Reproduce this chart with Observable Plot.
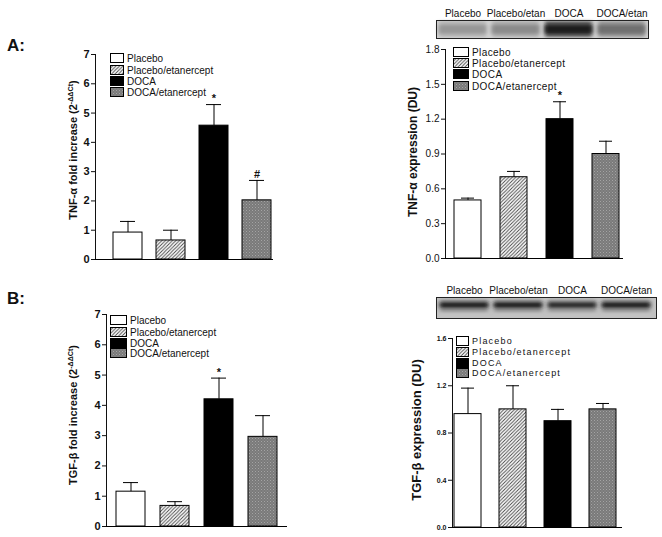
<!DOCTYPE html>
<html>
<head>
<meta charset="utf-8">
<script src="https://cdn.jsdelivr.net/npm/d3@7"></script>
<script src="https://cdn.jsdelivr.net/npm/@observablehq/plot@0.6"></script>
<style>
  body { margin: 0; background: #fff; }
  #page { position: relative; width: 662px; height: 537px; overflow: hidden; background: #fff; font-family: "Liberation Sans", Arial, sans-serif; }
  .lbl { position: absolute; white-space: nowrap; color: #111; }
  .ylab { position: absolute; white-space: nowrap; font-weight: bold; transform: translate(-50%, -50%) rotate(-90deg); color: #111; }
  .ylab sup { font-size: 0.65em; }
  .leg { position: absolute; display: flex; align-items: center; white-space: nowrap; color: #111; }
  .leg svg { margin-right: 3px; flex: none; }
</style>
</head>
<body>
<svg width="0" height="0" style="position:absolute">
  <defs>
    <pattern id="hatch" patternUnits="userSpaceOnUse" width="3.5" height="3.5">
      <rect width="3.5" height="3.5" fill="#fff"/>
      <path d="M-1,1 l2,-2 M0,3.5 l3.5,-3.5 M2.5,4.5 l2,-2" stroke="#444" stroke-width="0.9"/>
    </pattern>
    <pattern id="dots" patternUnits="userSpaceOnUse" width="3" height="3">
      <rect width="3" height="3" fill="#7a7a7a"/>
      <rect x="0" y="0" width="1" height="1" fill="#a4a4a4"/>
      <rect x="1.5" y="1.5" width="1" height="1" fill="#969696"/>
    </pattern>
    <filter id="blur" x="-20%" y="-40%" width="140%" height="180%">
      <feGaussianBlur stdDeviation="2.2 1.4"/>
    </filter>
  </defs>
</svg>
<div id="page"></div>
<script>
// ---------- data ----------
const groups = ["Placebo", "Placebo/etanercept", "DOCA", "DOCA/etanercept"];
const fills = ["#ffffff", "url(#hatch)", "#000000", "url(#dots)"];

const tnfFold = [0.92, 0.65, 4.57, 2.02];
const tnfFoldErr = [0.38, 0.35, 0.72, 0.68];
const tnfFoldSig = ["", "", "*", "#"];

const tnfExpr = [0.50, 0.70, 1.20, 0.90];
const tnfExprErr = [0.02, 0.05, 0.15, 0.11];
const tnfExprSig = ["", "", "*", ""];

const tgfFold = [1.15, 0.68, 4.20, 2.96];
const tgfFoldErr = [0.30, 0.14, 0.70, 0.70];
const tgfFoldSig = ["", "", "*", ""];

const tgfExpr = [0.96, 1.00, 0.90, 1.00];
const tgfExprErr = [0.22, 0.20, 0.10, 0.05];
const tgfExprSig = ["", "", "", ""];

const foldTicks = [0, 1, 2, 3, 4, 5, 6, 7];
const tnfExprTicks = [0, 0.3, 0.6, 0.9, 1.2, 1.5, 1.8];
const tgfExprTicks = [0, 0.4, 0.8, 1.2, 1.6];

const blotLanes = ["Placebo", "Placebo/etan", "DOCA", "DOCA/etan"];
const blotTnf = [0.50, 0.54, 0.90, 0.64];
const blotTgf = [0.90, 0.90, 0.86, 0.90];

const legendLabels = ["Placebo", "Placebo/etanercept", "DOCA", "DOCA/etanercept"];

// ---------- helpers ----------
const page = document.getElementById("page");
const W = 662, H = 537;

function rows(vals, errs, sig) {
  return groups.map((g, i) => ({group: g, value: vals[i], top: vals[i] + errs[i], sig: sig[i]}));
}

function barPanel(o) {
  const data = rows(o.vals, o.errs, o.sig);
  const svg = Plot.plot({
    width: W, height: H,
    marginLeft: o.left, marginRight: W - o.right, marginTop: o.top, marginBottom: H - o.bottom,
    style: {position: "absolute", left: "0px", top: "0px", background: "transparent", overflow: "visible",
            fontFamily: "'Liberation Sans', Arial, sans-serif", fontSize: o.fontSize + "px", fontWeight: o.fontWeight, color: "#111"},
    x: {domain: groups, range: o.xrange, paddingInner: o.pad, paddingOuter: 0, axis: null},
    y: {domain: o.ydomain, ticks: o.ticks, tickFormat: o.fmt, tickSize: 4, tickPadding: 2, label: null, line: true},
    color: {domain: groups, range: fills},
    marks: [
      Plot.barY(data, {x: "group", y: "value", fill: "group", stroke: "#000", strokeWidth: 1}),
      Plot.ruleX(data, {x: "group", y1: "value", y2: "top", stroke: "#000", strokeWidth: 1}),
      Plot.tickY(data, {x: "group", y: "top", stroke: "#000", strokeWidth: 1, insetLeft: o.cap, insetRight: o.cap}),
      Plot.text(data, {x: "group", y: "top", text: "sig", dy: -6, fontSize: 11, fontWeight: "bold"}),
      Plot.ruleY([0], {stroke: "#000", strokeWidth: 1})
    ]
  });
  page.appendChild(svg);
}

function blot(o) {
  const lanes = blotLanes.map((l, i) => ({lane: l, v: o.vals[i]}));
  const svg = Plot.plot({
    width: W, height: H,
    marginLeft: o.left, marginRight: W - o.right, marginTop: o.top, marginBottom: H - o.bottom,
    style: {position: "absolute", left: "0px", top: "0px", background: "transparent", overflow: "visible",
            fontFamily: "'Liberation Sans', Arial, sans-serif", fontSize: "10px", color: "#111"},
    x: {domain: blotLanes, range: o.xrange, paddingInner: 0.12, paddingOuter: 0, axis: "top", tickSize: 0, tickPadding: o.tp, label: null},
    y: {domain: [0, 1], axis: null},
    marks: [
      Plot.frame({fill: o.bg}),
      Plot.barY(lanes, {x: "lane", y1: o.halo[0], y2: o.halo[1], fill: d => d3.interpolateGreys(d.v * o.haloK)}),
      Plot.barY(lanes, {x: "lane", y1: o.core[0], y2: o.core[1], fill: d => d3.interpolateGreys(d.v)}),
      Plot.frame({stroke: "#222", strokeWidth: 1})
    ]
  });
  d3.select(svg).selectAll("g[aria-label='bar']").attr("filter", "url(#blur)");
  page.appendChild(svg);
}

function addText(cls, html, x, y, css) {
  const d = document.createElement("div");
  d.className = cls;
  d.innerHTML = html;
  d.style.left = x + "px";
  d.style.top = y + "px";
  Object.assign(d.style, css || {});
  page.appendChild(d);
  return d;
}

function legend(o) {
  legendLabels.forEach((lab, i) => {
    const d = document.createElement("div");
    d.className = "leg";
    d.style.left = o.x + "px";
    d.style.top = (o.ys[i] - o.h / 2 - 1) + "px";
    d.style.height = (o.h + 2) + "px";
    d.style.fontSize = o.fontSize + "px";
    d.style.letterSpacing = o.ls + "px";
    d.innerHTML = `<svg width="${o.w + 1}" height="${o.h + 1}"><rect x="0.5" y="0.5" width="${o.w}" height="${o.h}" fill="${fills[i]}" stroke="#000" stroke-width="1"/></svg><span>${lab}</span>`;
    page.appendChild(d);
  });
}

// ---------- panels ----------
const f1 = d3.format(".1f");

barPanel({vals: tnfFold, errs: tnfFoldErr, sig: tnfFoldSig, left: 95, right: 273, top: 54, bottom: 259,
  xrange: [112, 271], pad: 0.33, ydomain: [0, 7], ticks: foldTicks, fmt: d3.format("d"),
  fontSize: 11, fontWeight: "bold", cap: 7});

barPanel({vals: tnfExpr, errs: tnfExprErr, sig: tnfExprSig, left: 445, right: 623, top: 49, bottom: 258,
  xrange: [453, 619], pad: 0.42, ydomain: [0, 1.8], ticks: tnfExprTicks, fmt: f1,
  fontSize: 10, fontWeight: "normal", cap: 7});

barPanel({vals: tgfFold, errs: tgfFoldErr, sig: tgfFoldSig, left: 106, right: 287, top: 314, bottom: 526,
  xrange: [114, 279], pad: 0.33, ydomain: [0, 7], ticks: foldTicks, fmt: d3.format("d"),
  fontSize: 11, fontWeight: "bold", cap: 7});

barPanel({vals: tgfExpr, errs: tgfExprErr, sig: tgfExprSig, left: 452, right: 622, top: 338, bottom: 527,
  xrange: [453, 617], pad: 0.39, ydomain: [0, 1.6], ticks: tgfExprTicks, fmt: f1,
  fontSize: 7, fontWeight: "bold", cap: 7});

// blots
blot({vals: blotTnf, left: 436, right: 648, top: 20, bottom: 38, xrange: [438, 646], tp: 4,
  bg: "#d4d4d4", halo: [0.06, 0.94], haloK: 0.8, core: [0.25, 0.72]});
blot({vals: blotTgf, left: 436, right: 656, top: 297, bottom: 318, xrange: [440, 650], tp: 4,
  bg: "#c2c2c2", halo: [0.3, 0.88], haloK: 0.6, core: [0.5, 0.74]});

// legends
legend({x: 110, ys: [58, 70, 81, 92], w: 13, h: 9, fontSize: 10, ls: 0});
legend({x: 453, ys: [52, 63, 74, 86], w: 15, h: 9, fontSize: 10, ls: 0.4});
legend({x: 110, ys: [320, 332, 343, 353], w: 16, h: 9, fontSize: 10, ls: 0});
legend({x: 456, ys: [341, 352, 363, 373], w: 12, h: 9, fontSize: 9, ls: 1.2});

// y labels
addText("ylab", "TNF-α fold increase (2<sup>-ΔΔCt</sup>)", 73, 150, {fontSize: "11px"});
addText("ylab", "TNF-α expression (DU)", 413, 152, {fontSize: "12px"});
addText("ylab", "TGF-β fold increase (2<sup>-ΔΔCt</sup>)", 73, 415, {fontSize: "11px"});
addText("ylab", "TGF-β expression (DU)", 416, 430, {fontSize: "13px"});

// panel letters
addText("lbl", "A:", 7, 36, {fontSize: "17px", fontWeight: "bold"});
addText("lbl", "B:", 7, 289, {fontSize: "17px", fontWeight: "bold"});
</script>
</body>
</html>
